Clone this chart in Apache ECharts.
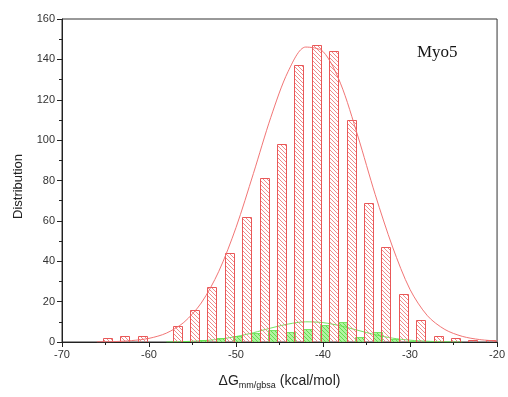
<!DOCTYPE html>
<html>
<head>
<meta charset="utf-8">
<script src="https://cdn.jsdelivr.net/npm/echarts@6/dist/echarts.min.js"></script>
<style>
  html, body { margin: 0; padding: 0; background: #fff; }
  #chart { width: 508px; height: 397px; }
</style>
</head>
<body>
<div id="chart"></div>
<script>
// Histogram bins (bin centres, kcal/mol) and counts
const binCenters = [-64.8, -62.8, -60.8, -58.8, -56.8, -54.8, -52.8, -50.8, -48.8, -46.8, -44.8, -42.8,
                    -40.8, -38.8, -36.8, -34.8, -32.8, -30.8, -28.8, -26.8, -24.8, -22.8, -20.8];
const mainCounts = [2, 3, 3, 0, 8, 16, 27, 44, 62, 81, 98, 137,
                    147, 144, 110, 69, 47, 24, 11, 3, 2, 1, 1];

// Second population, drawn between the main bins
const subCenters = [-55.8, -53.8, -51.8, -49.8, -47.8, -45.8, -43.8, -41.8, -39.8, -37.8, -35.8, -33.8, -31.8, -29.8];
const subCounts  = [0.3, 0.8, 2, 3, 4.5, 6, 5, 6.5, 8.5, 10, 2.5, 5, 1.5, 0.5];

// Fitted distribution curves (x, y)
const fitX    = [-66, -64, -62, -60, -58, -56, -54, -52, -50, -48, -46, -44, -42, -40, -38, -36, -34, -32, -30, -28, -26, -24, -22, -20];
const fitMain = [0.1, 0.2, 0.7, 1.8, 4.4, 9.7, 19.3, 34.8, 56.7, 83.5, 111.3, 134.1, 146.1, 143.9, 128.2, 102, 73, 47, 26, 13, 6.2, 2.8, 1.2, 0.5];
const fitSubX = [-58, -56, -54, -52, -50, -48, -46, -44, -42, -40, -38, -36, -34, -32, -30, -28, -26, -24];
const fitSub  = [0.07, 0.2, 0.6, 1.35, 2.7, 4.6, 6.9, 8.9, 10, 9.6, 8, 5.8, 3.6, 1.9, 0.9, 0.37, 0.13, 0.04];

// Axis ticks
const xMin = -70, xMax = -20, xStep = 10;
const yMin = 0, yMax = 160, yStep = 20;

function hatch(lineColor, bgColor) {
  const s = 4;
  const c = document.createElement('canvas');
  c.width = s; c.height = s;
  const g = c.getContext('2d');
  if (bgColor) { g.fillStyle = bgColor; g.fillRect(0, 0, s, s); }
  g.strokeStyle = lineColor;
  g.lineWidth = 1;
  g.beginPath();
  g.moveTo(-1, -1); g.lineTo(s + 1, s + 1);
  g.moveTo(-1, s - 1); g.lineTo(1, s + 1);
  g.moveTo(s - 1, -1); g.lineTo(s + 1, 1);
  g.stroke();
  return { image: c, repeat: 'repeat' };
}

const redHatch = hatch('rgba(236,120,120,0.85)', null);
const greenHatch = hatch('rgba(90,220,70,0.9)', 'rgba(150,240,130,0.75)');

function barRenderer(fill, stroke) {
  return function (params, api) {
    const x = api.value(0), y = api.value(1);
    if (!y) return null;
    const a = api.coord([x - 0.5, 0]);
    const b = api.coord([x + 0.5, y]);
    return {
      type: 'rect',
      shape: { x: Math.round(a[0]) + 0.5, y: Math.round(b[1]) + 0.5,
               width: Math.round(b[0] - a[0]), height: Math.round(a[1]) - Math.round(b[1]) },
      style: { fill: fill, stroke: stroke, lineWidth: 1 }
    };
  };
}

const chart = echarts.init(document.getElementById('chart'), null, { renderer: 'canvas' });
const font = '"Liberation Sans", Arial, sans-serif';

chart.setOption({
  animation: false,
  backgroundColor: '#fff',
  title: {
    text: 'Myo5', left: 417, top: 44, padding: 0,
    textStyle: { fontFamily: '"Liberation Serif", "Times New Roman", serif', fontWeight: 'normal', fontSize: 17, color: '#151515' }
  },
  grid: { left: 62, right: 10, top: 19, bottom: 55, show: true, borderColor: '#333', borderWidth: 1, backgroundColor: 'transparent' },
  xAxis: {
    type: 'value', min: xMin, max: xMax, interval: xStep,
    name: '{a|ΔG}{sub|mm/gbsa}{a| (kcal/mol)}',
    nameLocation: 'middle', nameGap: 30,
    nameTextStyle: {
      rich: {
        a: { fontFamily: font, fontSize: 14, color: '#222', lineHeight: 18, verticalAlign: 'middle' },
        sub: { fontFamily: font, fontSize: 9, color: '#222', lineHeight: 18, verticalAlign: 'bottom', padding: [9, 0, 0, 0] }
      }
    },
    axisLine: { lineStyle: { color: '#222', width: 1 } },
    axisTick: { show: true, inside: false, length: 5, lineStyle: { color: '#222' } },
    minorTick: { show: true, splitNumber: 2, length: 3, lineStyle: { color: '#222' } },
    axisLabel: { fontFamily: font, fontSize: 11, color: '#333', margin: 7 },
    splitLine: { show: false }
  },
  yAxis: {
    type: 'value', min: yMin, max: yMax, interval: yStep,
    name: 'Distribution', nameLocation: 'middle', nameGap: 37,
    nameTextStyle: { fontFamily: font, fontSize: 13, color: '#222', padding: [0, 0, 0, -12] },
    axisLine: { show: true, lineStyle: { color: '#222', width: 1 } },
    axisTick: { show: true, inside: false, length: 5, lineStyle: { color: '#222' } },
    minorTick: { show: true, splitNumber: 2, length: 3, lineStyle: { color: '#222' } },
    axisLabel: { fontFamily: font, fontSize: 11, color: '#333', margin: 7 },
    splitLine: { show: false }
  },
  series: [
    {
      type: 'custom', name: 'sub', clip: true, z: 2,
      renderItem: barRenderer(greenHatch, 'rgba(110,225,90,0.9)'),
      encode: { x: 0, y: 1 },
      data: subCenters.map((c, i) => [c, subCounts[i]])
    },
    {
      type: 'line', name: 'subFit', z: 3, smooth: 0.3, symbol: 'none',
      lineStyle: { color: 'rgba(100,225,80,0.9)', width: 1 },
      data: fitSubX.map((x, i) => [x, fitSub[i]])
    },
    {
      type: 'custom', name: 'main', clip: true, z: 4,
      renderItem: barRenderer(redHatch, 'rgba(232,80,80,0.95)'),
      encode: { x: 0, y: 1 },
      data: binCenters.map((c, i) => [c, mainCounts[i]])
    },
    {
      type: 'line', name: 'mainFit', z: 5, smooth: 0.3, symbol: 'none',
      lineStyle: { color: 'rgba(240,110,110,0.95)', width: 1 },
      data: fitX.map((x, i) => [x, fitMain[i]])
    }
  ]
});
</script>
</body>
</html>
